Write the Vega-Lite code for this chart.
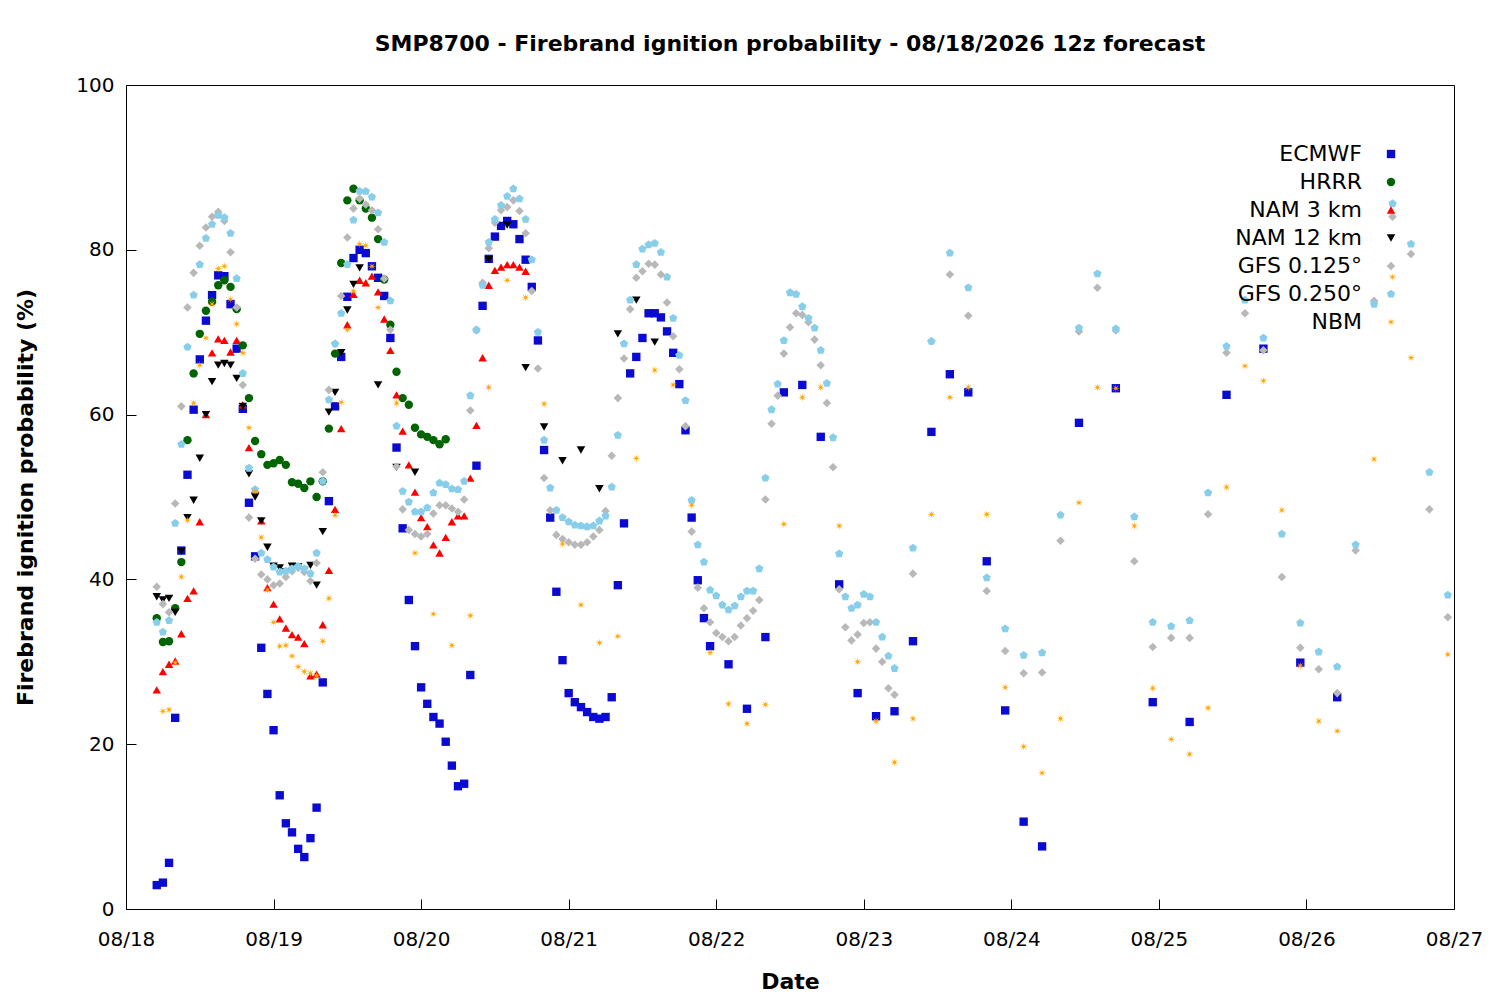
{
"$schema":"https://vega.github.io/schema/vega-lite/v6.json",
"width":1328,"height":824,
"autosize":{"type":"none"},
"padding":{"left":126,"top":85,"right":46,"bottom":91},
"title":{"text":"SMP8700 - Firebrand ignition probability - 08/18/2026 12z forecast","font":"DejaVu Sans","fontSize":22,"fontWeight":"bold","offset":30,"anchor":"middle","dy":11},
"config":{"view":{"stroke":"black","strokeWidth":1},"font":"DejaVu Sans"},
"data":{"values":[
{"m":"ECMWF","h":5,"v":2.9},{"m":"ECMWF","h":6,"v":3.2},{"m":"ECMWF","h":7,"v":5.6},{"m":"ECMWF","h":8,"v":23.2},{"m":"ECMWF","h":9,"v":43.5},{"m":"ECMWF","h":10,"v":52.7},{"m":"ECMWF","h":11,"v":60.6},{"m":"ECMWF","h":12,"v":66.7},{"m":"ECMWF","h":13,"v":71.4},{"m":"ECMWF","h":14,"v":74.5},{"m":"ECMWF","h":15,"v":76.9},{"m":"ECMWF","h":16,"v":76.8},{"m":"ECMWF","h":17,"v":73.4},{"m":"ECMWF","h":18,"v":68},{"m":"ECMWF","h":19,"v":60.7},{"m":"ECMWF","h":20,"v":49.3},{"m":"ECMWF","h":21,"v":42.8},{"m":"ECMWF","h":22,"v":31.7},{"m":"ECMWF","h":23,"v":26.1},{"m":"ECMWF","h":24,"v":21.7},{"m":"ECMWF","h":25,"v":13.8},{"m":"ECMWF","h":26,"v":10.4},{"m":"ECMWF","h":27,"v":9.3},{"m":"ECMWF","h":28,"v":7.3},{"m":"ECMWF","h":29,"v":6.3},{"m":"ECMWF","h":30,"v":8.6},{"m":"ECMWF","h":31,"v":12.3},{"m":"ECMWF","h":32,"v":27.5},{"m":"ECMWF","h":33,"v":49.5},{"m":"ECMWF","h":34,"v":61},{"m":"ECMWF","h":35,"v":67},{"m":"ECMWF","h":36,"v":74.3},{"m":"ECMWF","h":37,"v":79},{"m":"ECMWF","h":38,"v":80},{"m":"ECMWF","h":39,"v":79.6},{"m":"ECMWF","h":40,"v":78},{"m":"ECMWF","h":41,"v":76.6},{"m":"ECMWF","h":42,"v":74.4},{"m":"ECMWF","h":43,"v":69.3},{"m":"ECMWF","h":44,"v":56},{"m":"ECMWF","h":45,"v":46.2},{"m":"ECMWF","h":46,"v":37.5},{"m":"ECMWF","h":47,"v":31.9},{"m":"ECMWF","h":48,"v":26.9},{"m":"ECMWF","h":49,"v":24.9},{"m":"ECMWF","h":50,"v":23.3},{"m":"ECMWF","h":51,"v":22.5},{"m":"ECMWF","h":52,"v":20.3},{"m":"ECMWF","h":53,"v":17.4},{"m":"ECMWF","h":54,"v":14.9},{"m":"ECMWF","h":55,"v":15.2},{"m":"ECMWF","h":56,"v":28.4},{"m":"ECMWF","h":57,"v":53.8},{"m":"ECMWF","h":58,"v":73.2},{"m":"ECMWF","h":59,"v":78.9},{"m":"ECMWF","h":60,"v":81.6},{"m":"ECMWF","h":61,"v":82.9},{"m":"ECMWF","h":62,"v":83.5},{"m":"ECMWF","h":63,"v":83.1},{"m":"ECMWF","h":64,"v":81.3},{"m":"ECMWF","h":65,"v":78.8},{"m":"ECMWF","h":66,"v":75.5},{"m":"ECMWF","h":67,"v":69},{"m":"ECMWF","h":68,"v":55.7},{"m":"ECMWF","h":69,"v":47.5},{"m":"ECMWF","h":70,"v":38.5},{"m":"ECMWF","h":71,"v":30.2},{"m":"ECMWF","h":72,"v":26.2},{"m":"ECMWF","h":73,"v":25.1},{"m":"ECMWF","h":74,"v":24.5},{"m":"ECMWF","h":75,"v":23.9},{"m":"ECMWF","h":76,"v":23.3},{"m":"ECMWF","h":77,"v":23.1},{"m":"ECMWF","h":78,"v":23.3},{"m":"ECMWF","h":79,"v":25.7},{"m":"ECMWF","h":80,"v":39.3},{"m":"ECMWF","h":81,"v":46.8},{"m":"ECMWF","h":82,"v":65},{"m":"ECMWF","h":83,"v":67},{"m":"ECMWF","h":84,"v":69.3},{"m":"ECMWF","h":85,"v":72.3},{"m":"ECMWF","h":86,"v":72.3},{"m":"ECMWF","h":87,"v":71.8},{"m":"ECMWF","h":88,"v":70.1},{"m":"ECMWF","h":89,"v":67.5},{"m":"ECMWF","h":90,"v":63.7},{"m":"ECMWF","h":91,"v":58.1},{"m":"ECMWF","h":92,"v":47.5},{"m":"ECMWF","h":93,"v":39.9},{"m":"ECMWF","h":94,"v":35.3},{"m":"ECMWF","h":95,"v":31.9},{"m":"ECMWF","h":98,"v":29.7},{"m":"ECMWF","h":101,"v":24.3},{"m":"ECMWF","h":104,"v":33},{"m":"ECMWF","h":107,"v":62.7},{"m":"ECMWF","h":110,"v":63.6},{"m":"ECMWF","h":113,"v":57.3},{"m":"ECMWF","h":116,"v":39.4},{"m":"ECMWF","h":119,"v":26.2},{"m":"ECMWF","h":122,"v":23.4},{"m":"ECMWF","h":125,"v":24},{"m":"ECMWF","h":128,"v":32.5},{"m":"ECMWF","h":131,"v":57.9},{"m":"ECMWF","h":134,"v":64.9},{"m":"ECMWF","h":137,"v":62.7},{"m":"ECMWF","h":140,"v":42.2},{"m":"ECMWF","h":143,"v":24.1},{"m":"ECMWF","h":146,"v":10.6},{"m":"ECMWF","h":149,"v":7.6},{"m":"ECMWF","h":155,"v":59},{"m":"ECMWF","h":161,"v":63.2},{"m":"ECMWF","h":167,"v":25.1},{"m":"ECMWF","h":173,"v":22.7},{"m":"ECMWF","h":179,"v":62.4},{"m":"ECMWF","h":185,"v":68},{"m":"ECMWF","h":191,"v":29.9},{"m":"ECMWF","h":197,"v":25.7},
{"m":"HRRR","h":5,"v":35.3},{"m":"HRRR","h":6,"v":32.4},{"m":"HRRR","h":7,"v":32.5},{"m":"HRRR","h":8,"v":36.5},{"m":"HRRR","h":9,"v":42.1},{"m":"HRRR","h":10,"v":56.9},{"m":"HRRR","h":11,"v":65},{"m":"HRRR","h":12,"v":69.8},{"m":"HRRR","h":13,"v":72.6},{"m":"HRRR","h":14,"v":73.7},{"m":"HRRR","h":15,"v":75.7},{"m":"HRRR","h":16,"v":76.3},{"m":"HRRR","h":17,"v":75.5},{"m":"HRRR","h":18,"v":72.8},{"m":"HRRR","h":19,"v":68.4},{"m":"HRRR","h":20,"v":62},{"m":"HRRR","h":21,"v":56.8},{"m":"HRRR","h":22,"v":55.2},{"m":"HRRR","h":23,"v":53.9},{"m":"HRRR","h":24,"v":54.1},{"m":"HRRR","h":25,"v":54.5},{"m":"HRRR","h":26,"v":53.9},{"m":"HRRR","h":27,"v":51.8},{"m":"HRRR","h":28,"v":51.6},{"m":"HRRR","h":29,"v":51.1},{"m":"HRRR","h":30,"v":51.9},{"m":"HRRR","h":31,"v":50},{"m":"HRRR","h":32,"v":51.9},{"m":"HRRR","h":33,"v":58.3},{"m":"HRRR","h":34,"v":67.4},{"m":"HRRR","h":35,"v":78.4},{"m":"HRRR","h":36,"v":86},{"m":"HRRR","h":37,"v":87.4},{"m":"HRRR","h":38,"v":86},{"m":"HRRR","h":39,"v":85},{"m":"HRRR","h":40,"v":83.9},{"m":"HRRR","h":41,"v":81.3},{"m":"HRRR","h":42,"v":76.4},{"m":"HRRR","h":43,"v":70.9},{"m":"HRRR","h":44,"v":65.2},{"m":"HRRR","h":45,"v":62},{"m":"HRRR","h":46,"v":61.2},{"m":"HRRR","h":47,"v":58.4},{"m":"HRRR","h":48,"v":57.6},{"m":"HRRR","h":49,"v":57.3},{"m":"HRRR","h":50,"v":56.9},{"m":"HRRR","h":51,"v":56.4},{"m":"HRRR","h":52,"v":57},
{"m":"NAM 3 km","h":5,"v":26.6},{"m":"NAM 3 km","h":6,"v":28.8},{"m":"NAM 3 km","h":7,"v":29.7},{"m":"NAM 3 km","h":8,"v":30.1},{"m":"NAM 3 km","h":9,"v":33.4},{"m":"NAM 3 km","h":10,"v":37.7},{"m":"NAM 3 km","h":11,"v":38.6},{"m":"NAM 3 km","h":12,"v":47},{"m":"NAM 3 km","h":13,"v":60},{"m":"NAM 3 km","h":14,"v":67.5},{"m":"NAM 3 km","h":15,"v":69.2},{"m":"NAM 3 km","h":16,"v":69},{"m":"NAM 3 km","h":17,"v":67.6},{"m":"NAM 3 km","h":18,"v":69},{"m":"NAM 3 km","h":19,"v":61.2},{"m":"NAM 3 km","h":20,"v":56},{"m":"NAM 3 km","h":21,"v":50.9},{"m":"NAM 3 km","h":22,"v":47.1},{"m":"NAM 3 km","h":23,"v":39},{"m":"NAM 3 km","h":24,"v":37},{"m":"NAM 3 km","h":25,"v":35.2},{"m":"NAM 3 km","h":26,"v":34.1},{"m":"NAM 3 km","h":27,"v":33.3},{"m":"NAM 3 km","h":28,"v":33},{"m":"NAM 3 km","h":29,"v":32.2},{"m":"NAM 3 km","h":30,"v":28.3},{"m":"NAM 3 km","h":31,"v":28.5},{"m":"NAM 3 km","h":32,"v":34.5},{"m":"NAM 3 km","h":33,"v":41.1},{"m":"NAM 3 km","h":34,"v":48.5},{"m":"NAM 3 km","h":35,"v":58.3},{"m":"NAM 3 km","h":36,"v":70.9},{"m":"NAM 3 km","h":37,"v":74.6},{"m":"NAM 3 km","h":38,"v":76.3},{"m":"NAM 3 km","h":39,"v":76},{"m":"NAM 3 km","h":40,"v":76.8},{"m":"NAM 3 km","h":41,"v":74.9},{"m":"NAM 3 km","h":42,"v":71.6},{"m":"NAM 3 km","h":43,"v":67.8},{"m":"NAM 3 km","h":44,"v":62.4},{"m":"NAM 3 km","h":45,"v":58},{"m":"NAM 3 km","h":46,"v":53.9},{"m":"NAM 3 km","h":47,"v":50.6},{"m":"NAM 3 km","h":48,"v":47.5},{"m":"NAM 3 km","h":49,"v":46.4},{"m":"NAM 3 km","h":50,"v":44.2},{"m":"NAM 3 km","h":51,"v":43.2},{"m":"NAM 3 km","h":52,"v":45.1},{"m":"NAM 3 km","h":53,"v":47},{"m":"NAM 3 km","h":54,"v":47.7},{"m":"NAM 3 km","h":55,"v":47.7},{"m":"NAM 3 km","h":56,"v":52.3},{"m":"NAM 3 km","h":57,"v":58.7},{"m":"NAM 3 km","h":58,"v":66.9},{"m":"NAM 3 km","h":59,"v":75.7},{"m":"NAM 3 km","h":60,"v":77.5},{"m":"NAM 3 km","h":61,"v":77.9},{"m":"NAM 3 km","h":62,"v":78.2},{"m":"NAM 3 km","h":63,"v":78.2},{"m":"NAM 3 km","h":64,"v":77.9},{"m":"NAM 3 km","h":65,"v":77.4},
{"m":"NAM 12 km","h":5,"v":37.9},{"m":"NAM 12 km","h":6,"v":37.5},{"m":"NAM 12 km","h":7,"v":37.7},{"m":"NAM 12 km","h":8,"v":36},{"m":"NAM 12 km","h":9,"v":43.4},{"m":"NAM 12 km","h":10,"v":47.5},{"m":"NAM 12 km","h":11,"v":49.6},{"m":"NAM 12 km","h":12,"v":54.7},{"m":"NAM 12 km","h":13,"v":60},{"m":"NAM 12 km","h":14,"v":64},{"m":"NAM 12 km","h":15,"v":66},{"m":"NAM 12 km","h":16,"v":66.2},{"m":"NAM 12 km","h":17,"v":66},{"m":"NAM 12 km","h":18,"v":64.4},{"m":"NAM 12 km","h":19,"v":61},{"m":"NAM 12 km","h":20,"v":52.8},{"m":"NAM 12 km","h":21,"v":50},{"m":"NAM 12 km","h":22,"v":47.1},{"m":"NAM 12 km","h":23,"v":43.9},{"m":"NAM 12 km","h":24,"v":41.6},{"m":"NAM 12 km","h":25,"v":41.4},{"m":"NAM 12 km","h":26,"v":40.9},{"m":"NAM 12 km","h":27,"v":41.6},{"m":"NAM 12 km","h":28,"v":41.5},{"m":"NAM 12 km","h":29,"v":41.1},{"m":"NAM 12 km","h":30,"v":41.7},{"m":"NAM 12 km","h":31,"v":39.3},{"m":"NAM 12 km","h":32,"v":45.8},{"m":"NAM 12 km","h":33,"v":60.3},{"m":"NAM 12 km","h":34,"v":62.7},{"m":"NAM 12 km","h":35,"v":67.5},{"m":"NAM 12 km","h":36,"v":72.7},{"m":"NAM 12 km","h":37,"v":75.8},{"m":"NAM 12 km","h":38,"v":77.8},{"m":"NAM 12 km","h":41,"v":63.6},{"m":"NAM 12 km","h":44,"v":53.6},{"m":"NAM 12 km","h":47,"v":53},{"m":"NAM 12 km","h":59,"v":78.8},{"m":"NAM 12 km","h":62,"v":83},{"m":"NAM 12 km","h":65,"v":65.7},{"m":"NAM 12 km","h":68,"v":58.5},{"m":"NAM 12 km","h":71,"v":54.4},{"m":"NAM 12 km","h":74,"v":55.7},{"m":"NAM 12 km","h":77,"v":51},{"m":"NAM 12 km","h":80,"v":69.8},{"m":"NAM 12 km","h":83,"v":73.9},{"m":"NAM 12 km","h":86,"v":68.8},
{"m":"GFS 0.125°","h":5,"v":39.1},{"m":"GFS 0.125°","h":6,"v":37},{"m":"GFS 0.125°","h":7,"v":36},{"m":"GFS 0.125°","h":8,"v":49.2},{"m":"GFS 0.125°","h":9,"v":61},{"m":"GFS 0.125°","h":10,"v":73},{"m":"GFS 0.125°","h":11,"v":77.2},{"m":"GFS 0.125°","h":12,"v":80.5},{"m":"GFS 0.125°","h":13,"v":82.7},{"m":"GFS 0.125°","h":14,"v":84},{"m":"GFS 0.125°","h":15,"v":84.6},{"m":"GFS 0.125°","h":16,"v":83.5},{"m":"GFS 0.125°","h":17,"v":79.7},{"m":"GFS 0.125°","h":18,"v":73},{"m":"GFS 0.125°","h":19,"v":63.6},{"m":"GFS 0.125°","h":20,"v":47.5},{"m":"GFS 0.125°","h":21,"v":42.5},{"m":"GFS 0.125°","h":22,"v":40.6},{"m":"GFS 0.125°","h":23,"v":40},{"m":"GFS 0.125°","h":24,"v":39.3},{"m":"GFS 0.125°","h":25,"v":39.5},{"m":"GFS 0.125°","h":26,"v":40.3},{"m":"GFS 0.125°","h":27,"v":41},{"m":"GFS 0.125°","h":28,"v":41.4},{"m":"GFS 0.125°","h":29,"v":40.9},{"m":"GFS 0.125°","h":30,"v":39.8},{"m":"GFS 0.125°","h":31,"v":42},{"m":"GFS 0.125°","h":32,"v":53},{"m":"GFS 0.125°","h":33,"v":63},{"m":"GFS 0.125°","h":34,"v":68.6},{"m":"GFS 0.125°","h":35,"v":74.4},{"m":"GFS 0.125°","h":36,"v":81.5},{"m":"GFS 0.125°","h":37,"v":85},{"m":"GFS 0.125°","h":38,"v":86.2},{"m":"GFS 0.125°","h":39,"v":85.5},{"m":"GFS 0.125°","h":40,"v":84.8},{"m":"GFS 0.125°","h":41,"v":82.5},{"m":"GFS 0.125°","h":42,"v":76.5},{"m":"GFS 0.125°","h":43,"v":70.3},{"m":"GFS 0.125°","h":44,"v":53.7},{"m":"GFS 0.125°","h":45,"v":48.5},{"m":"GFS 0.125°","h":46,"v":46},{"m":"GFS 0.125°","h":47,"v":45.5},{"m":"GFS 0.125°","h":48,"v":45.2},{"m":"GFS 0.125°","h":49,"v":45.5},{"m":"GFS 0.125°","h":50,"v":48},{"m":"GFS 0.125°","h":51,"v":49},{"m":"GFS 0.125°","h":52,"v":49},{"m":"GFS 0.125°","h":53,"v":48.6},{"m":"GFS 0.125°","h":54,"v":48.2},{"m":"GFS 0.125°","h":55,"v":49.7},{"m":"GFS 0.125°","h":56,"v":60.5},{"m":"GFS 0.125°","h":57,"v":70.2},{"m":"GFS 0.125°","h":58,"v":76},{"m":"GFS 0.125°","h":59,"v":80.2},{"m":"GFS 0.125°","h":60,"v":83.3},{"m":"GFS 0.125°","h":61,"v":84.8},{"m":"GFS 0.125°","h":62,"v":85.2},{"m":"GFS 0.125°","h":63,"v":86},{"m":"GFS 0.125°","h":64,"v":84.7},{"m":"GFS 0.125°","h":65,"v":82},{"m":"GFS 0.125°","h":66,"v":75},{"m":"GFS 0.125°","h":67,"v":65.6},{"m":"GFS 0.125°","h":68,"v":52.3},{"m":"GFS 0.125°","h":69,"v":48.4},{"m":"GFS 0.125°","h":70,"v":45.4},{"m":"GFS 0.125°","h":71,"v":44.9},{"m":"GFS 0.125°","h":72,"v":44.5},{"m":"GFS 0.125°","h":73,"v":44.2},{"m":"GFS 0.125°","h":74,"v":44.2},{"m":"GFS 0.125°","h":75,"v":44.5},{"m":"GFS 0.125°","h":76,"v":45.2},{"m":"GFS 0.125°","h":77,"v":46},{"m":"GFS 0.125°","h":78,"v":48.3},{"m":"GFS 0.125°","h":79,"v":55},{"m":"GFS 0.125°","h":80,"v":62},{"m":"GFS 0.125°","h":81,"v":66.8},{"m":"GFS 0.125°","h":82,"v":72.8},{"m":"GFS 0.125°","h":83,"v":76.6},{"m":"GFS 0.125°","h":84,"v":77.4},{"m":"GFS 0.125°","h":85,"v":78.3},{"m":"GFS 0.125°","h":86,"v":78.2},{"m":"GFS 0.125°","h":87,"v":77},{"m":"GFS 0.125°","h":88,"v":73.6},{"m":"GFS 0.125°","h":89,"v":69.5},{"m":"GFS 0.125°","h":90,"v":65.5},{"m":"GFS 0.125°","h":91,"v":58.6},{"m":"GFS 0.125°","h":92,"v":45.8},{"m":"GFS 0.125°","h":93,"v":39},{"m":"GFS 0.125°","h":94,"v":36.5},{"m":"GFS 0.125°","h":95,"v":34.8},{"m":"GFS 0.125°","h":96,"v":33.5},{"m":"GFS 0.125°","h":97,"v":33},{"m":"GFS 0.125°","h":98,"v":32.5},{"m":"GFS 0.125°","h":99,"v":33},{"m":"GFS 0.125°","h":100,"v":34.4},{"m":"GFS 0.125°","h":101,"v":35.3},{"m":"GFS 0.125°","h":102,"v":36.2},{"m":"GFS 0.125°","h":103,"v":37.5},{"m":"GFS 0.125°","h":104,"v":49.7},{"m":"GFS 0.125°","h":105,"v":58.9},{"m":"GFS 0.125°","h":106,"v":62.3},{"m":"GFS 0.125°","h":107,"v":67.4},{"m":"GFS 0.125°","h":108,"v":70.6},{"m":"GFS 0.125°","h":109,"v":72.3},{"m":"GFS 0.125°","h":110,"v":72.1},{"m":"GFS 0.125°","h":111,"v":71.2},{"m":"GFS 0.125°","h":112,"v":69.1},{"m":"GFS 0.125°","h":113,"v":66},{"m":"GFS 0.125°","h":114,"v":61.4},{"m":"GFS 0.125°","h":115,"v":53.6},{"m":"GFS 0.125°","h":116,"v":38.8},{"m":"GFS 0.125°","h":117,"v":34.2},{"m":"GFS 0.125°","h":118,"v":32.6},{"m":"GFS 0.125°","h":119,"v":33.3},{"m":"GFS 0.125°","h":120,"v":34.7},{"m":"GFS 0.125°","h":121,"v":34.8},{"m":"GFS 0.125°","h":122,"v":31.6},{"m":"GFS 0.125°","h":123,"v":30},{"m":"GFS 0.125°","h":124,"v":26.8},{"m":"GFS 0.125°","h":125,"v":26},{"m":"GFS 0.125°","h":128,"v":40.7},{"m":"GFS 0.125°","h":131,"v":68.9},{"m":"GFS 0.125°","h":134,"v":77},{"m":"GFS 0.125°","h":137,"v":72},{"m":"GFS 0.125°","h":140,"v":38.6},{"m":"GFS 0.125°","h":143,"v":31.3},{"m":"GFS 0.125°","h":146,"v":28.6},{"m":"GFS 0.125°","h":149,"v":28.7},{"m":"GFS 0.125°","h":152,"v":44.7},{"m":"GFS 0.125°","h":155,"v":70.1},{"m":"GFS 0.125°","h":158,"v":75.4},{"m":"GFS 0.125°","h":161,"v":70.2},{"m":"GFS 0.125°","h":164,"v":42.2},{"m":"GFS 0.125°","h":167,"v":31.8},{"m":"GFS 0.125°","h":170,"v":32.9},{"m":"GFS 0.125°","h":173,"v":32.9},{"m":"GFS 0.125°","h":176,"v":47.9},{"m":"GFS 0.125°","h":179,"v":67.5},{"m":"GFS 0.125°","h":182,"v":72.3},{"m":"GFS 0.125°","h":185,"v":67.8},{"m":"GFS 0.125°","h":188,"v":40.3},{"m":"GFS 0.125°","h":191,"v":31.7},{"m":"GFS 0.125°","h":194,"v":29.1},{"m":"GFS 0.125°","h":197,"v":26.2},{"m":"GFS 0.125°","h":200,"v":43.5},{"m":"GFS 0.125°","h":203,"v":73.8},{"m":"GFS 0.125°","h":206,"v":84},{"m":"GFS 0.125°","h":209,"v":79.5},{"m":"GFS 0.125°","h":212,"v":48.5},{"m":"GFS 0.125°","h":215,"v":35.4},
{"m":"GFS 0.250°","h":5,"v":34.8},{"m":"GFS 0.250°","h":6,"v":33.6},{"m":"GFS 0.250°","h":7,"v":35},{"m":"GFS 0.250°","h":8,"v":46.8},{"m":"GFS 0.250°","h":9,"v":56.4},{"m":"GFS 0.250°","h":10,"v":68.2},{"m":"GFS 0.250°","h":11,"v":74.5},{"m":"GFS 0.250°","h":12,"v":78.2},{"m":"GFS 0.250°","h":13,"v":81.4},{"m":"GFS 0.250°","h":14,"v":83.1},{"m":"GFS 0.250°","h":15,"v":84.2},{"m":"GFS 0.250°","h":16,"v":83.9},{"m":"GFS 0.250°","h":17,"v":82},{"m":"GFS 0.250°","h":18,"v":76.5},{"m":"GFS 0.250°","h":19,"v":65},{"m":"GFS 0.250°","h":20,"v":53.5},{"m":"GFS 0.250°","h":21,"v":50.9},{"m":"GFS 0.250°","h":22,"v":43.2},{"m":"GFS 0.250°","h":23,"v":42.4},{"m":"GFS 0.250°","h":24,"v":41.5},{"m":"GFS 0.250°","h":25,"v":40.9},{"m":"GFS 0.250°","h":26,"v":41},{"m":"GFS 0.250°","h":27,"v":41.3},{"m":"GFS 0.250°","h":28,"v":41.6},{"m":"GFS 0.250°","h":29,"v":41.3},{"m":"GFS 0.250°","h":30,"v":40.7},{"m":"GFS 0.250°","h":31,"v":43.2},{"m":"GFS 0.250°","h":32,"v":51.9},{"m":"GFS 0.250°","h":33,"v":61.8},{"m":"GFS 0.250°","h":34,"v":68.6},{"m":"GFS 0.250°","h":35,"v":72.3},{"m":"GFS 0.250°","h":36,"v":78.2},{"m":"GFS 0.250°","h":37,"v":83.6},{"m":"GFS 0.250°","h":38,"v":87.1},{"m":"GFS 0.250°","h":39,"v":87.1},{"m":"GFS 0.250°","h":40,"v":86.4},{"m":"GFS 0.250°","h":41,"v":84.5},{"m":"GFS 0.250°","h":42,"v":80.9},{"m":"GFS 0.250°","h":43,"v":73.8},{"m":"GFS 0.250°","h":44,"v":58.6},{"m":"GFS 0.250°","h":45,"v":50.7},{"m":"GFS 0.250°","h":46,"v":49.4},{"m":"GFS 0.250°","h":47,"v":48.2},{"m":"GFS 0.250°","h":48,"v":48.2},{"m":"GFS 0.250°","h":49,"v":48.7},{"m":"GFS 0.250°","h":50,"v":50.5},{"m":"GFS 0.250°","h":51,"v":51.7},{"m":"GFS 0.250°","h":52,"v":51.5},{"m":"GFS 0.250°","h":53,"v":51},{"m":"GFS 0.250°","h":54,"v":50.9},{"m":"GFS 0.250°","h":55,"v":51.9},{"m":"GFS 0.250°","h":56,"v":62.3},{"m":"GFS 0.250°","h":57,"v":70.3},{"m":"GFS 0.250°","h":58,"v":75.7},{"m":"GFS 0.250°","h":59,"v":80.9},{"m":"GFS 0.250°","h":60,"v":83.7},{"m":"GFS 0.250°","h":61,"v":85.4},{"m":"GFS 0.250°","h":62,"v":86.5},{"m":"GFS 0.250°","h":63,"v":87.4},{"m":"GFS 0.250°","h":64,"v":86.2},{"m":"GFS 0.250°","h":65,"v":83.7},{"m":"GFS 0.250°","h":66,"v":78.8},{"m":"GFS 0.250°","h":67,"v":70},{"m":"GFS 0.250°","h":68,"v":56.9},{"m":"GFS 0.250°","h":69,"v":51.1},{"m":"GFS 0.250°","h":70,"v":48.4},{"m":"GFS 0.250°","h":71,"v":47.5},{"m":"GFS 0.250°","h":72,"v":47},{"m":"GFS 0.250°","h":73,"v":46.6},{"m":"GFS 0.250°","h":74,"v":46.5},{"m":"GFS 0.250°","h":75,"v":46.4},{"m":"GFS 0.250°","h":76,"v":46.5},{"m":"GFS 0.250°","h":77,"v":47.1},{"m":"GFS 0.250°","h":78,"v":47.7},{"m":"GFS 0.250°","h":79,"v":51.2},{"m":"GFS 0.250°","h":80,"v":57.5},{"m":"GFS 0.250°","h":81,"v":68.6},{"m":"GFS 0.250°","h":82,"v":73.9},{"m":"GFS 0.250°","h":83,"v":78.2},{"m":"GFS 0.250°","h":84,"v":80.1},{"m":"GFS 0.250°","h":85,"v":80.6},{"m":"GFS 0.250°","h":86,"v":80.8},{"m":"GFS 0.250°","h":87,"v":79.7},{"m":"GFS 0.250°","h":88,"v":76.7},{"m":"GFS 0.250°","h":89,"v":71.7},{"m":"GFS 0.250°","h":90,"v":67.2},{"m":"GFS 0.250°","h":91,"v":61.7},{"m":"GFS 0.250°","h":92,"v":49.6},{"m":"GFS 0.250°","h":93,"v":44.2},{"m":"GFS 0.250°","h":94,"v":42.1},{"m":"GFS 0.250°","h":95,"v":38.7},{"m":"GFS 0.250°","h":96,"v":38},{"m":"GFS 0.250°","h":97,"v":36.9},{"m":"GFS 0.250°","h":98,"v":36.3},{"m":"GFS 0.250°","h":99,"v":36.8},{"m":"GFS 0.250°","h":100,"v":37.9},{"m":"GFS 0.250°","h":101,"v":38.6},{"m":"GFS 0.250°","h":102,"v":38.6},{"m":"GFS 0.250°","h":103,"v":41.3},{"m":"GFS 0.250°","h":104,"v":52.3},{"m":"GFS 0.250°","h":105,"v":60.6},{"m":"GFS 0.250°","h":106,"v":63.7},{"m":"GFS 0.250°","h":107,"v":69},{"m":"GFS 0.250°","h":108,"v":74.8},{"m":"GFS 0.250°","h":109,"v":74.6},{"m":"GFS 0.250°","h":110,"v":73.1},{"m":"GFS 0.250°","h":111,"v":71.7},{"m":"GFS 0.250°","h":112,"v":70.5},{"m":"GFS 0.250°","h":113,"v":67.8},{"m":"GFS 0.250°","h":114,"v":63.8},{"m":"GFS 0.250°","h":115,"v":57.2},{"m":"GFS 0.250°","h":116,"v":43.1},{"m":"GFS 0.250°","h":117,"v":37.9},{"m":"GFS 0.250°","h":118,"v":36.5},{"m":"GFS 0.250°","h":119,"v":36.9},{"m":"GFS 0.250°","h":120,"v":38.2},{"m":"GFS 0.250°","h":121,"v":37.9},{"m":"GFS 0.250°","h":122,"v":34.8},{"m":"GFS 0.250°","h":123,"v":33},{"m":"GFS 0.250°","h":124,"v":30.7},{"m":"GFS 0.250°","h":125,"v":29.2},{"m":"GFS 0.250°","h":128,"v":43.8},{"m":"GFS 0.250°","h":131,"v":68.9},{"m":"GFS 0.250°","h":134,"v":79.6},{"m":"GFS 0.250°","h":137,"v":75.4},{"m":"GFS 0.250°","h":140,"v":40.2},{"m":"GFS 0.250°","h":143,"v":34},{"m":"GFS 0.250°","h":146,"v":30.8},{"m":"GFS 0.250°","h":149,"v":31.1},{"m":"GFS 0.250°","h":152,"v":47.8},{"m":"GFS 0.250°","h":155,"v":70.5},{"m":"GFS 0.250°","h":158,"v":77.1},{"m":"GFS 0.250°","h":161,"v":70.4},{"m":"GFS 0.250°","h":164,"v":47.6},{"m":"GFS 0.250°","h":167,"v":34.8},{"m":"GFS 0.250°","h":170,"v":34.3},{"m":"GFS 0.250°","h":173,"v":35},{"m":"GFS 0.250°","h":176,"v":50.5},{"m":"GFS 0.250°","h":179,"v":68.3},{"m":"GFS 0.250°","h":182,"v":73.9},{"m":"GFS 0.250°","h":185,"v":69.3},{"m":"GFS 0.250°","h":188,"v":45.5},{"m":"GFS 0.250°","h":191,"v":34.7},{"m":"GFS 0.250°","h":194,"v":31.2},{"m":"GFS 0.250°","h":197,"v":29.4},{"m":"GFS 0.250°","h":200,"v":44.2},{"m":"GFS 0.250°","h":203,"v":73.4},{"m":"GFS 0.250°","h":206,"v":85.6},{"m":"GFS 0.250°","h":209,"v":80.7},{"m":"GFS 0.250°","h":212,"v":53},{"m":"GFS 0.250°","h":215,"v":38.1},
{"m":"NBM","h":6,"v":24},{"m":"NBM","h":7,"v":24.2},{"m":"NBM","h":8,"v":29.9},{"m":"NBM","h":9,"v":40.3},{"m":"NBM","h":10,"v":47.2},{"m":"NBM","h":11,"v":61.4},{"m":"NBM","h":12,"v":66},{"m":"NBM","h":13,"v":69.3},{"m":"NBM","h":14,"v":73.4},{"m":"NBM","h":15,"v":77.7},{"m":"NBM","h":16,"v":78},{"m":"NBM","h":17,"v":74},{"m":"NBM","h":18,"v":71},{"m":"NBM","h":19,"v":67.5},{"m":"NBM","h":20,"v":58.4},{"m":"NBM","h":21,"v":50.7},{"m":"NBM","h":22,"v":45.1},{"m":"NBM","h":23,"v":38.7},{"m":"NBM","h":24,"v":34.8},{"m":"NBM","h":25,"v":31.9},{"m":"NBM","h":26,"v":32},{"m":"NBM","h":27,"v":30.7},{"m":"NBM","h":28,"v":29.4},{"m":"NBM","h":29,"v":28.8},{"m":"NBM","h":30,"v":28.6},{"m":"NBM","h":31,"v":28.3},{"m":"NBM","h":32,"v":32.5},{"m":"NBM","h":33,"v":37.7},{"m":"NBM","h":34,"v":47.8},{"m":"NBM","h":35,"v":61.5},{"m":"NBM","h":36,"v":70.3},{"m":"NBM","h":37,"v":75},{"m":"NBM","h":38,"v":80.7},{"m":"NBM","h":39,"v":80.5},{"m":"NBM","h":40,"v":78},{"m":"NBM","h":41,"v":73},{"m":"NBM","h":44,"v":61.4},{"m":"NBM","h":47,"v":43.2},{"m":"NBM","h":50,"v":35.8},{"m":"NBM","h":53,"v":32},{"m":"NBM","h":56,"v":35.6},{"m":"NBM","h":59,"v":63.3},{"m":"NBM","h":62,"v":76.3},{"m":"NBM","h":65,"v":74.2},{"m":"NBM","h":68,"v":61.3},{"m":"NBM","h":71,"v":44.3},{"m":"NBM","h":74,"v":36.9},{"m":"NBM","h":77,"v":32.3},{"m":"NBM","h":80,"v":33.1},{"m":"NBM","h":83,"v":54.7},{"m":"NBM","h":86,"v":65.4},{"m":"NBM","h":89,"v":63.6},{"m":"NBM","h":92,"v":49},{"m":"NBM","h":95,"v":31.1},{"m":"NBM","h":98,"v":24.9},{"m":"NBM","h":101,"v":22.5},{"m":"NBM","h":104,"v":24.8},{"m":"NBM","h":107,"v":46.7},{"m":"NBM","h":110,"v":62.1},{"m":"NBM","h":113,"v":63.3},{"m":"NBM","h":116,"v":46.5},{"m":"NBM","h":119,"v":30},{"m":"NBM","h":122,"v":22.8},{"m":"NBM","h":125,"v":17.8},{"m":"NBM","h":128,"v":23.1},{"m":"NBM","h":131,"v":47.9},{"m":"NBM","h":134,"v":62.1},{"m":"NBM","h":137,"v":63.3},{"m":"NBM","h":140,"v":47.9},{"m":"NBM","h":143,"v":26.9},{"m":"NBM","h":146,"v":19.7},{"m":"NBM","h":149,"v":16.5},{"m":"NBM","h":152,"v":23.1},{"m":"NBM","h":155,"v":49.3},{"m":"NBM","h":158,"v":63.3},{"m":"NBM","h":161,"v":63.2},{"m":"NBM","h":164,"v":46.5},{"m":"NBM","h":167,"v":26.8},{"m":"NBM","h":170,"v":20.6},{"m":"NBM","h":173,"v":18.8},{"m":"NBM","h":176,"v":24.4},{"m":"NBM","h":179,"v":51.2},{"m":"NBM","h":182,"v":65.9},{"m":"NBM","h":185,"v":64.1},{"m":"NBM","h":188,"v":48.4},{"m":"NBM","h":191,"v":29.5},{"m":"NBM","h":194,"v":22.8},{"m":"NBM","h":197,"v":21.6},{"m":"NBM","h":203,"v":54.6},{"m":"NBM","h":206,"v":76.7},{"m":"NBM","h":209,"v":66.9},{"m":"NBM","h":215,"v":30.9}
]},
"mark":{"type":"point","filled":true,"opacity":1},
"encoding":{
"x":{"field":"h","type":"quantitative","scale":{"domain":[0,216],"nice":false,"zero":false},
"axis":{"title":"Date","values":[0,24,48,72,96,120,144,168,192,216],"labelExpr":"['08/18','08/19','08/20','08/21','08/22','08/23','08/24','08/25','08/26','08/27'][round(datum.value/24)]","grid":false,"labelFlush":false,"labelFontSize":20,"labelColor":"black","labelFont":"DejaVu Sans","titleFontSize":22,"titleFont":"DejaVu Sans","titleFontWeight":"bold","titleColor":"black","tickColor":"black","tickSize":-10,"labelPadding":30,"domain":false,"titlePadding":22}},
"y":{"field":"v","type":"quantitative","scale":{"domain":[0,100],"nice":false},
"axis":{"title":"Firebrand ignition probability (%)","values":[0,20,40,60,80,100],"grid":false,"labelFlush":false,"labelFontSize":20,"labelColor":"black","labelFont":"DejaVu Sans","titleFontSize":22,"titleFont":"DejaVu Sans","titleFontWeight":"bold","titleColor":"black","tickColor":"black","tickSize":-10,"labelPadding":22,"domain":false,"titlePadding":38}},
"color":{"field":"m","type":"nominal","scale":{"domain":["ECMWF","HRRR","NAM 3 km","NAM 12 km","GFS 0.125°","GFS 0.250°","NBM"],"range":["#0a0ad0","#006400","#ff0000","#000000","#b8b8b8","#87ceeb","#ffa500"]},
"legend":{"title":null,"orient":"top-right","offset":58,"labelFontSize":22,"labelFont":"DejaVu Sans","labelColor":"black","symbolSize":100,"rowPadding":6,"labelAlign":"right","labelOffset":-40,"symbolOpacity":1}},
"shape":{"field":"m","type":"nominal","scale":{"domain":["ECMWF","HRRR","NAM 3 km","NAM 12 km","GFS 0.125°","GFS 0.250°","NBM"],"range":["square","circle","triangle-up","triangle-down","diamond","M0,-1L0.951,-0.309L0.588,0.809L-0.588,0.809L-0.951,-0.309Z","M1,0L0.25,0.1L0.707,0.707L0.1,0.25L0,1L-0.1,0.25L-0.707,0.707L-0.25,0.1L-1,0L-0.25,-0.1L-0.707,-0.707L-0.1,-0.25L0,-1L0.1,-0.25L0.707,-0.707L0.25,-0.1Z"]},"legend":null},
"size":{"field":"m","type":"nominal","scale":{"domain":["ECMWF","HRRR","NAM 3 km","NAM 12 km","GFS 0.125°","GFS 0.250°","NBM"],"range":[70,75,75,75,70,75,150]},"legend":null}
}
}
